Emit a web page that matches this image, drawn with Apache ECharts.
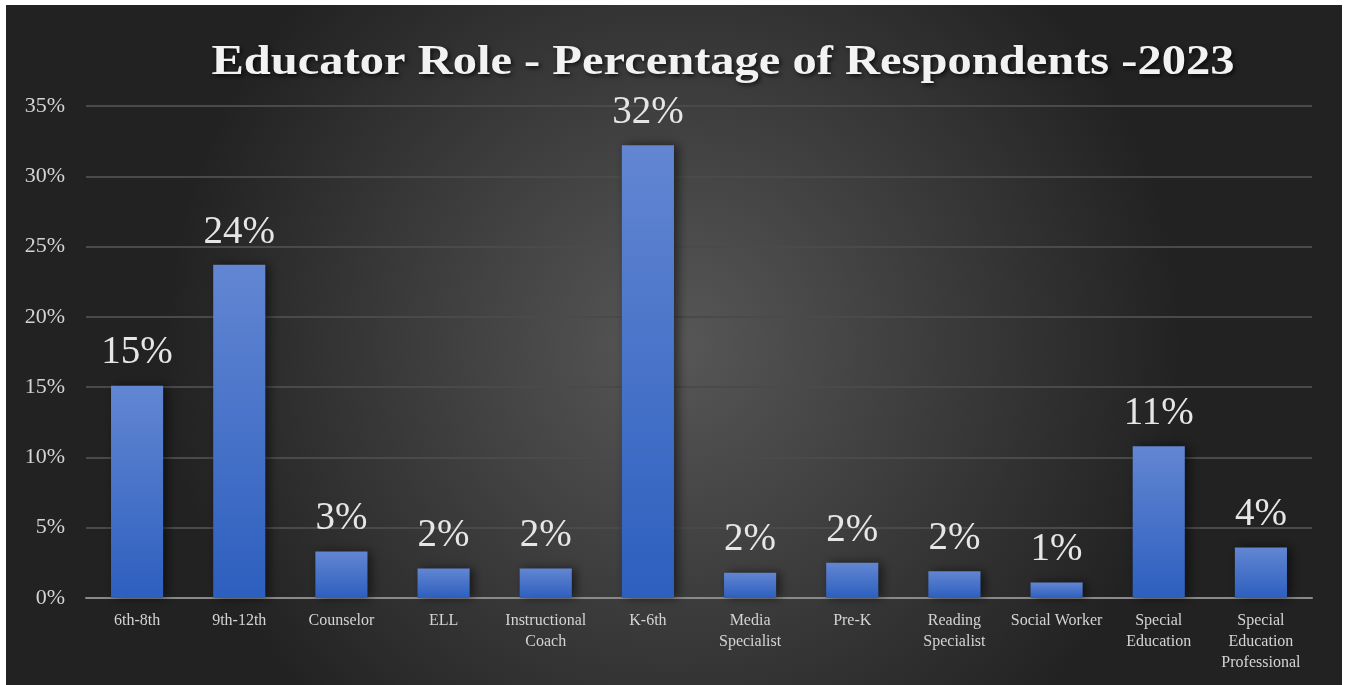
<!DOCTYPE html>
<html>
<head>
<meta charset="utf-8">
<script src="https://cdn.jsdelivr.net/npm/echarts@6/dist/echarts.min.js"></script>
<style>
html,body{margin:0;padding:0;background:#ffffff;}
#chart{position:absolute;left:6px;top:5px;width:1336px;height:680px;}
</style>
</head>
<body>
<div id="chart"></div>
<script>
const titleText = 'Educator Role - Percentage of Respondents -2023';
const categories = ['6th-8th', '9th-12th', 'Counselor', 'ELL', 'Instructional\nCoach', 'K-6th', 'Media\nSpecialist', 'Pre-K', 'Reading\nSpecialist', 'Social Worker', 'Special\nEducation', 'Special\nEducation\nProfessional'];
const values = [15.1, 23.7, 3.3, 2.1, 2.1, 32.2, 1.8, 2.5, 1.9, 1.1, 10.8, 3.6];
const valueLabels = ['15%', '24%', '3%', '2%', '2%', '32%', '2%', '2%', '2%', '1%', '11%', '4%'];

const serif = '"Liberation Serif", "DejaVu Serif", serif';
const chart = echarts.init(document.getElementById('chart'));
chart.setOption({
  animation: false,
  backgroundColor: {
    type: 'radial', x: 0.5, y: 0.5, r: 0.75,
    colorStops: [{offset: 0, color: '#575757'}, {offset: 1, color: '#222222'}]
  },
  graphic: [{
    type: 'text',
    x: 717, y: 58,
    scaleX: 1.155,
    style: {
      text: titleText,
      font: 'bold 42px ' + serif,
      fill: '#f2f2f2',
      align: 'center', verticalAlign: 'middle',
      textShadowColor: 'rgba(0,0,0,0.7)', textShadowBlur: 4, textShadowOffsetX: 2, textShadowOffsetY: 2
    }
  }],
  grid: {left: 80, right: 30, top: 101, bottom: 87, containLabel: false},
  xAxis: {
    type: 'category',
    data: categories,
    axisLine: {show: true, lineStyle: {color: '#8a8a8a', width: 2}},
    axisTick: {show: false},
    axisLabel: {
      interval: 0, fontFamily: serif, fontSize: 16, color: '#d4d4d4', lineHeight: 21, margin: 12
    }
  },
  yAxis: {
    type: 'value',
    min: 0, max: 35, interval: 5,
    axisLine: {show: false},
    axisTick: {show: false},
    splitLine: {lineStyle: {color: '#4a4a4a', width: 2}},
    axisLabel: {
      formatter: v => v + '%', fontFamily: serif, fontSize: 22, color: '#d4d4d4', margin: 21
    }
  },
  series: [{
    type: 'bar',
    data: values,
    barWidth: '51%',
    itemStyle: {
      color: {
        type: 'linear', x: 0, y: 0, x2: 0, y2: 1,
        colorStops: [{offset: 0, color: '#6286d2'}, {offset: 1, color: '#2d5fbf'}]
      },
      shadowColor: 'rgba(0,0,0,0.55)', shadowBlur: 10, shadowOffsetX: 4, shadowOffsetY: 0
    },
    label: {
      show: true, position: 'top', distance: 13,
      formatter: p => valueLabels[p.dataIndex],
      fontFamily: serif, fontSize: 39, color: '#e6e6e6'
    }
  }]
});
</script>
</body>
</html>
